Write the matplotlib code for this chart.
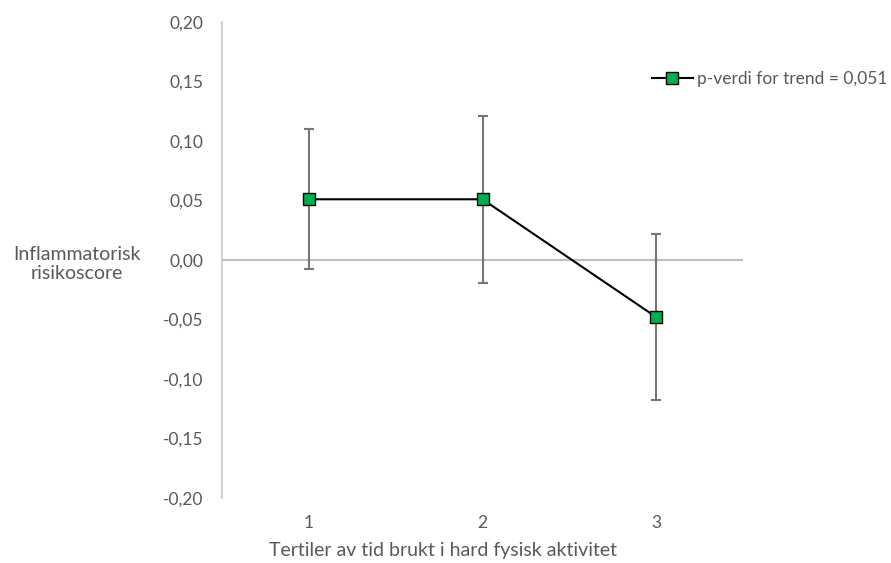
import numpy as np
import matplotlib.pyplot as plt
import matplotlib.ticker as mticker

# tertiles and mean inflammatory risk score with error margins
tertiles = [1, 2, 3]
score = [0.051, 0.051, -0.048]
err = [0.059, 0.07, 0.07]
yticks = [-0.20, -0.15, -0.10, -0.05, 0.00, 0.05, 0.10, 0.15, 0.20]

plt.rcParams['font.family'] = ['Lato', 'DejaVu Sans']
txt = '#595959'

fig = plt.figure(figsize=(8.91, 5.63), dpi=100)
ax = fig.add_axes([0.2492, 0.1155, 0.5847, 0.8455])

ax.axhline(0, color='#bfbfbf', lw=1.5, zorder=1)
ax.errorbar(tertiles, score, yerr=err, fmt='none', ecolor='#767676',
            elinewidth=1.5, capsize=3.6, capthick=1.5, zorder=2)
ax.plot(tertiles, score, color='black', lw=1.5, marker='s', markersize=8,
        markerfacecolor='#00b050', markeredgecolor='black', markeredgewidth=1.0,
        label='p-verdi for trend = 0,051', zorder=3)

ax.set_xlim(0.5, 3.5)
ax.set_ylim(-0.20, 0.20)
ax.set_xticks(tertiles)
ax.set_yticks(yticks)
ax.yaxis.set_major_formatter(mticker.FuncFormatter(lambda v, p: f'{v:.2f}'.replace('.', ',').replace('-0,00', '0,00')))
ax.tick_params(length=0, labelsize=12.5, colors=txt)
ax.tick_params(axis='y', pad=13.5)
ax.tick_params(axis='x', pad=12)

for s in ['top', 'right', 'bottom']:
    ax.spines[s].set_visible(False)
ax.spines['left'].set_color('#c8c8c8')
ax.spines['left'].set_linewidth(1.2)

fig.text(0.497, 0.023, 'Tertiler av tid brukt i hard fysisk aktivitet', ha='center', va='center',
         fontsize=14, color=txt)
fig.text(0.0864, 0.531, 'Inflammatorisk\nrisikoscore', ha='center', va='center',
         fontsize=14, color=txt, linespacing=1.15)

ax.legend(loc='center left', bbox_to_anchor=(652 / 891, 1 - 79 / 563),
          bbox_transform=fig.transFigure, frameon=False, borderpad=0,
          borderaxespad=0, handlelength=2.36, handletextpad=0.25,
          fontsize=12.5, labelcolor=txt)

fig.savefig('out.png', dpi=100)
